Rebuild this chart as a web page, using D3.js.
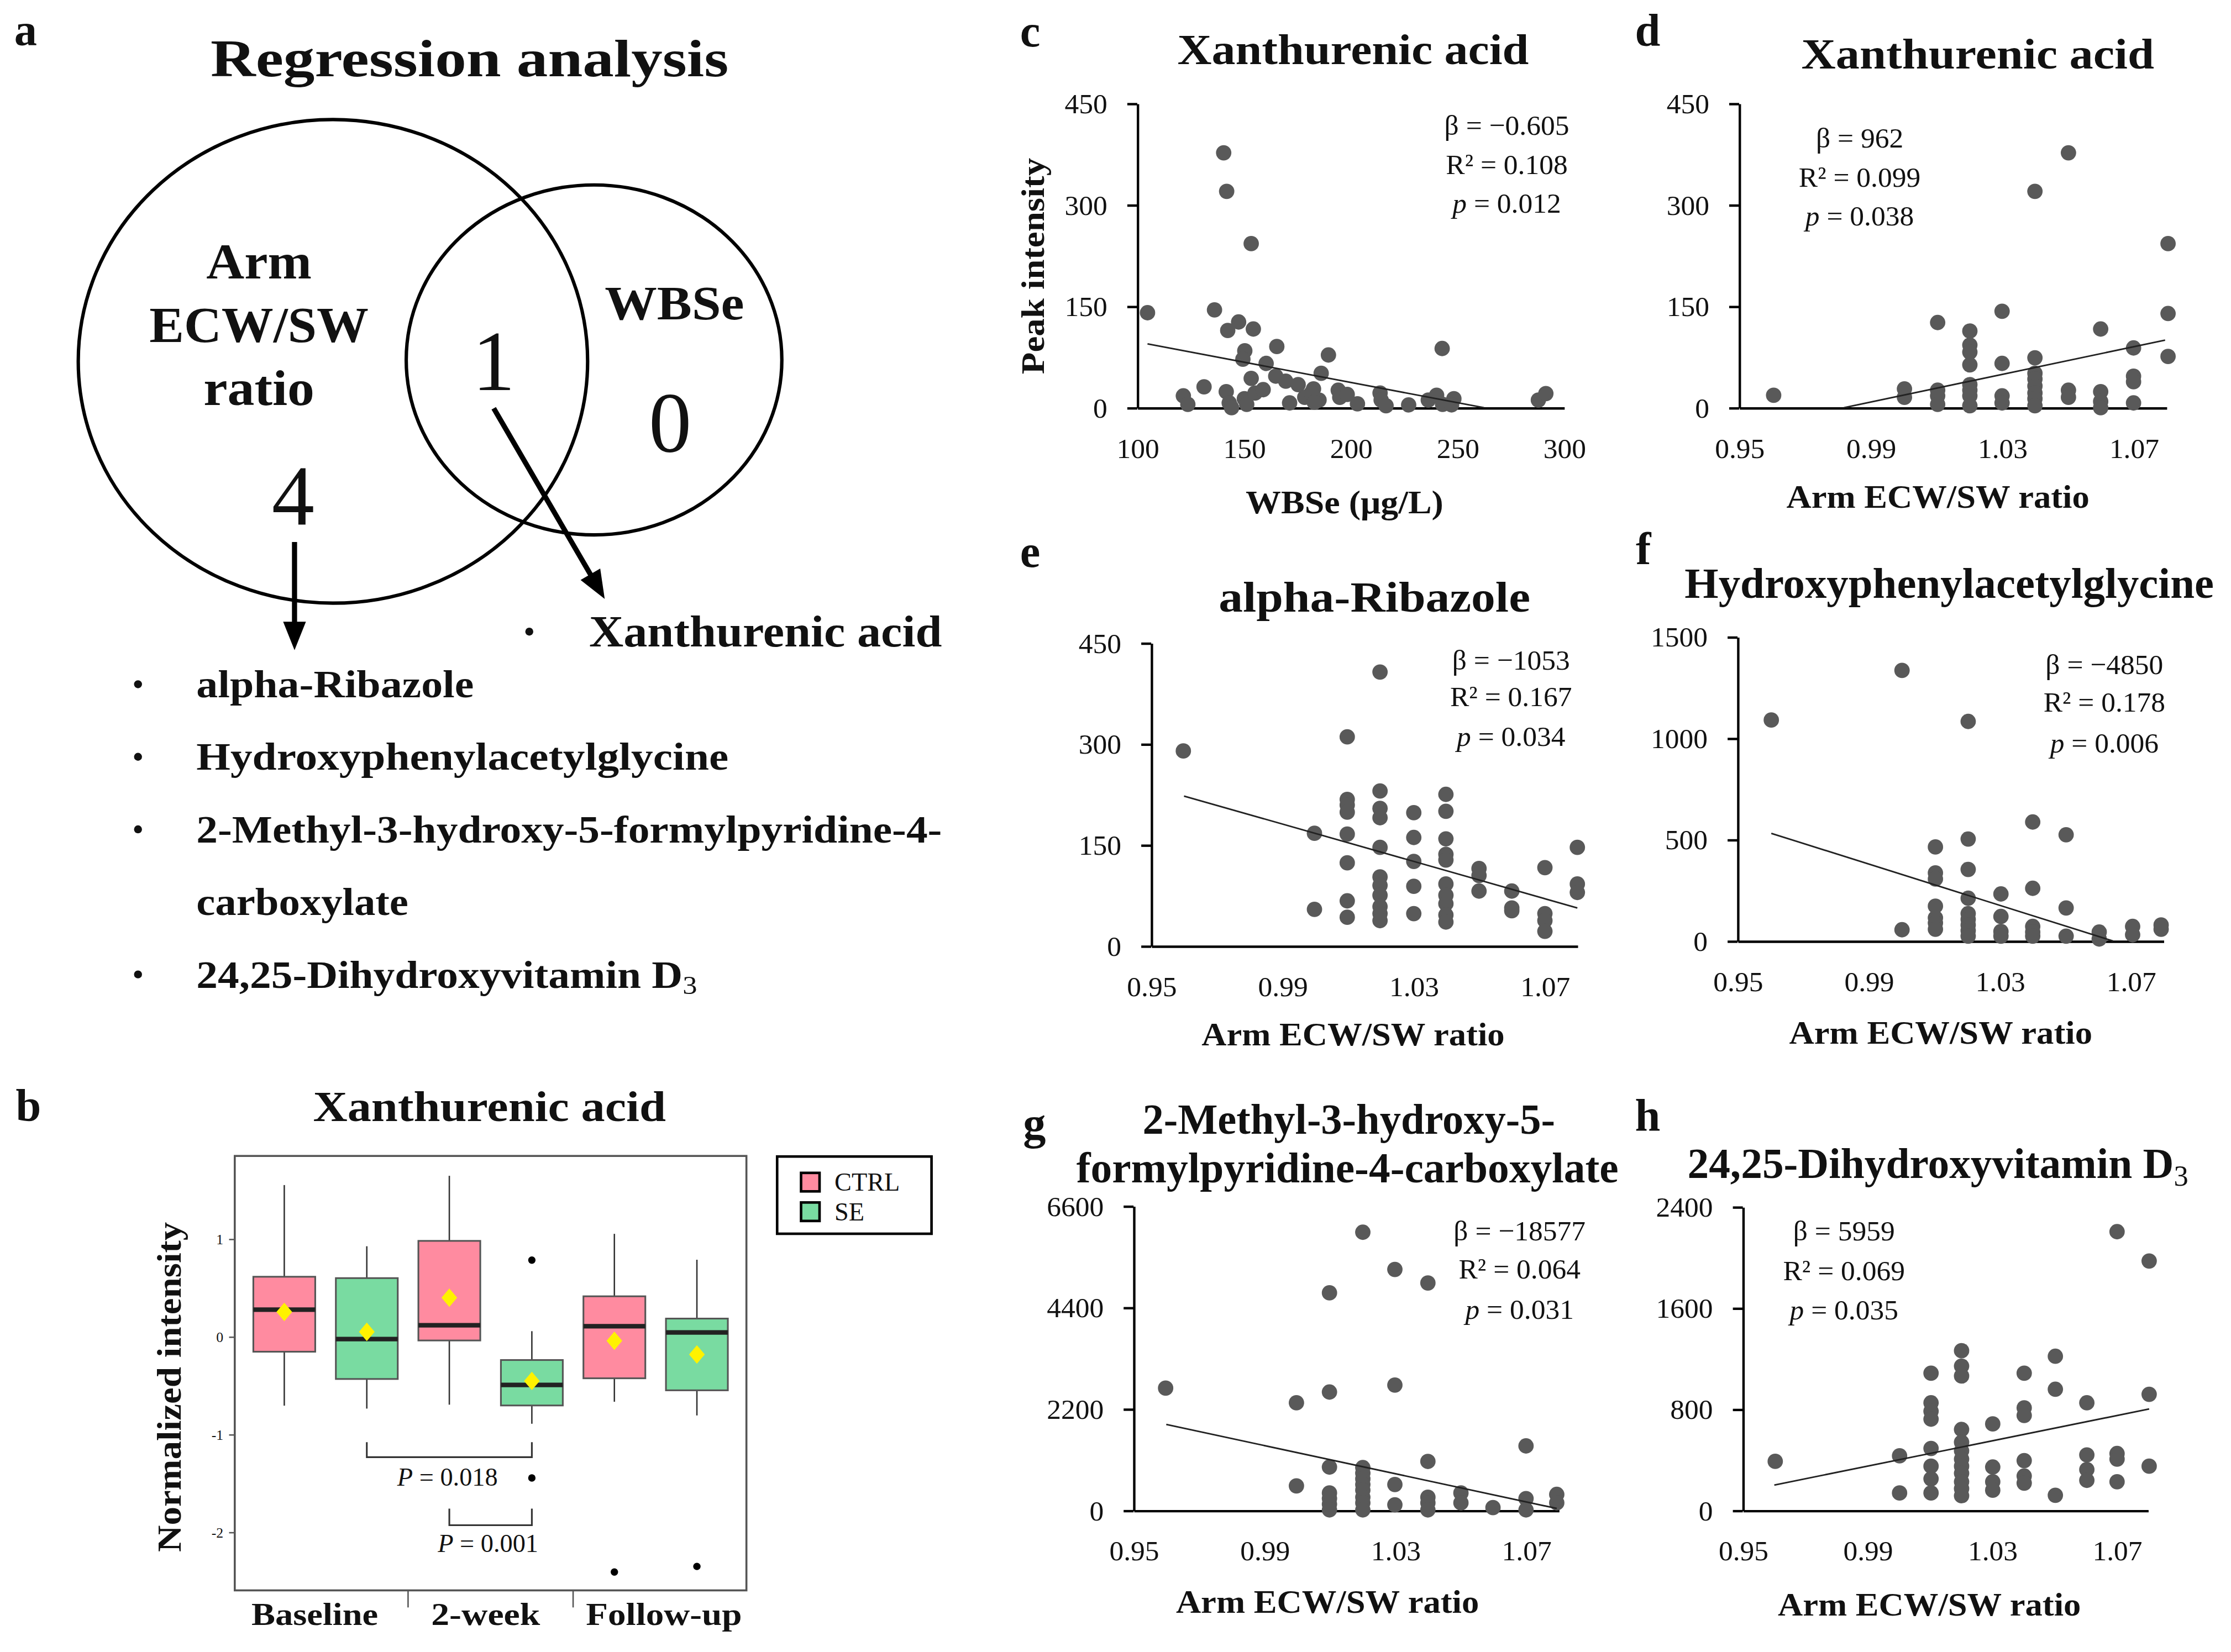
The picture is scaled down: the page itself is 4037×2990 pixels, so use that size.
<!DOCTYPE html>
<html><head><meta charset="utf-8">
<script src="https://cdn.jsdelivr.net/npm/d3@7/dist/d3.min.js"></script>
<style>
body{margin:0;background:#fff}
text{font-family:"Liberation Serif","Times New Roman",serif;fill:#111}
</style>
</head><body>
<svg id="fig"></svg>
<script>
// ---------------- DATA ----------------
const vennSetNames = ["Arm|ECW/SW|ratio", "WBSe"];
const vennCounts = [4, 1, 0]; // only Arm, both, only WBSe
const vennMainTitle = "Regression analysis";
const vennSharedItems = ["Xanthurenic acid"];
const vennArmItems = ["alpha-Ribazole", "Hydroxyphenylacetylglycine", "2-Methyl-3-hydroxy-5-formylpyridine-4-|carboxylate", "24,25-Dihydroxyvitamin D_3"];

const bTitle = "Xanthurenic acid";
const bCategories = ["Baseline", "2-week", "Follow-up"];
const bGroups = ["CTRL", "SE"];
const bWhiskerLow  = [-0.70, -0.73, -0.69, -0.885, -0.66, -0.80];
const bQ1          = [-0.148, -0.427, -0.033, -0.698, -0.42, -0.543];
const bMedian      = [0.283, -0.019, 0.123, -0.488, 0.113, 0.049];
const bQ3          = [0.619, 0.605, 0.986, -0.233, 0.419, 0.191];
const bWhiskerHigh = [1.557, 0.931, 1.652, 0.062, 1.058, 0.793];
const bMean        = [0.259, 0.055, 0.405, -0.447, -0.036, -0.176];
const bOutliers    = [[], [], [], [0.789, -1.44], [-2.402], [-2.345]];
const bYTicks = [1, 0, -1, -2];
const bPValues = ["0.018", "0.001"];
const bPairs = [[2, 4], [3, 4]];

const scatterTitles = ["Xanthurenic acid", "Xanthurenic acid", "alpha-Ribazole", "Hydroxyphenylacetylglycine", "2-Methyl-3-hydroxy-5-|formylpyridine-4-carboxylate", "24,25-Dihydroxyvitamin D_3"];
const scatterXLabels = ["WBSe (μg/L)", "Arm ECW/SW ratio", "Arm ECW/SW ratio", "Arm ECW/SW ratio", "Arm ECW/SW ratio", "Arm ECW/SW ratio"];
const statsBeta = ["−0.605", "962", "−1053", "−4850", "−18577", "5959"];
const statsR2 = ["0.108", "0.099", "0.167", "0.178", "0.064", "0.069"];
const statsP = ["0.012", "0.038", "0.034", "0.006", "0.031", "0.035"];
const xTicksWBSe = [100, 150, 200, 250, 300];
const xTicksRatio = [0.95, 0.99, 1.03, 1.07];
const yTicksC = [0, 150, 300, 450];
const yTicksD = [0, 150, 300, 450];
const yTicksE = [0, 150, 300, 450];
const yTicksF = [0, 500, 1000, 1500];
const yTicksG = [0, 2200, 4400, 6600];
const yTicksH = [0, 800, 1600, 2400];

const cPoints = [[104.8,140.5],[140.5,377],[141.9,320],[153.4,242.7],[136.2,144.7],[147.5,126.8],[142.4,114.3],[154.4,116.4],[165.4,90.5],[150.4,84.2],[149.5,71.7],[160.4,65.5],[164.9,46.7],[153.4,43.4],[169.6,39.2],[175.4,34.2],[186.2,50.9],[189.6,78],[242.9,87.6],[131.3,30.9],[121.6,17.5],[123.7,5],[141.7,23.8],[143.1,7.1],[144.2,0],[150.2,13.3],[151.3,5],[155.2,21.7],[159,26.7],[171.4,7.1],[178.5,15.4],[182.6,27.9],[185.2,11.3],[194.2,25.9],[194.9,15.4],[198.4,19.6],[203.2,5.8],[213.8,21.7],[214.3,11.3],[216.6,2.9],[227.2,4.2],[236.4,11.3],[240.3,18.4],[243.1,5],[248.4,13.3],[247.3,4.2],[288,11.3],[291.5,20.9],[181.6,21.7],[183,8]];
const cTrend = [[104.8,94.5],[262.5,0]];

const dPoints = [[0.9605,18.4],[1.0003,27.9],[1.0003,15.4],[1.0104,126],[1.0104,25.9],[1.0104,17.5],[1.0104,5],[1.0202,113.4],[1.0202,92.6],[1.0202,82.2],[1.0202,63.4],[1.0202,34.2],[1.0202,25.9],[1.0202,17.5],[1.0202,2.9],[1.03,142.6],[1.03,65.5],[1.03,17.5],[1.03,7.1],[1.04,320],[1.04,73.8],[1.04,50.9],[1.04,42.5],[1.04,32.1],[1.04,21.7],[1.04,13.3],[1.04,2.9],[1.0502,377],[1.0502,25.9],[1.0502,15.4],[1.06,116.4],[1.06,23.8],[1.06,9.2],[1.06,0],[1.07,88.4],[1.07,46.7],[1.07,38.4],[1.07,7.1],[1.0805,242.7],[1.0805,139.3],[1.0805,75.9]];
const dTrend = [[0.9819,0],[1.0796,100]];

const ePoints = [[0.9598,289.7],[0.9998,167.4],[0.9998,54.4],[1.0098,310.6],[1.0098,217.7],[1.0098,209.3],[1.0098,198.8],[1.0098,166.2],[1.0098,123.5],[1.0098,67],[1.0098,42.7],[1.0198,406.9],[1.0198,230.2],[1.0198,204.3],[1.0198,190.5],[1.0198,146.5],[1.0198,102.6],[1.0198,90],[1.0198,75.3],[1.0198,58.6],[1.0198,48.1],[1.0198,37.7],[1.0301,198],[1.0301,161.2],[1.0301,125.6],[1.0301,88.7],[1.0301,48.1],[1.0399,225.2],[1.0399,200.1],[1.0399,159.1],[1.0399,136],[1.0399,127.7],[1.0399,92.1],[1.0399,75.3],[1.0399,62.8],[1.0399,46],[1.0399,35.6],[1.05,115.1],[1.05,104.7],[1.05,81.6],[1.06,81.6],[1.06,56.5],[1.06,52.3],[1.0701,116.4],[1.0701,48.1],[1.0701,37.7],[1.0701,21.8],[1.08,146.5],[1.08,92.1],[1.08,79.5]];
const eTrend = [[0.96,222.7],[1.08,56.5]];

const fPoints = [[0.9603,1090],[1.0002,1334.6],[1.0002,55.6],[1.0204,1083],[1.0204,503],[1.0204,353],[1.0204,211],[1.0204,135],[1.0204,107],[1.0204,79],[1.0204,51],[1.0204,24],[1.0104,464],[1.0104,336],[1.0104,306],[1.0104,172],[1.0104,114],[1.0104,89],[1.0104,58],[1.0304,232],[1.0304,121],[1.0304,47],[1.0304,24],[1.0401,587],[1.0401,260],[1.0401,72],[1.0401,44],[1.0401,24],[1.0503,524],[1.0503,163],[1.0503,24],[1.0604,44],[1.0604,10],[1.0706,72],[1.0706,31],[1.0793,79],[1.0793,58]];
const fTrend = [[0.9603,531],[1.0646,0]];

const gPoints = [[0.9598,2652],[0.9998,2334],[0.9998,532],[1.0099,4718],[1.0099,2567],[1.0099,941],[1.0099,379],[1.0099,257],[1.0099,134],[1.0099,12],[1.0201,6032],[1.0201,929],[1.0201,807],[1.0201,684],[1.0201,562],[1.0201,440],[1.0201,287],[1.0201,165],[1.0201,12],[1.0299,5225],[1.0299,2719],[1.0299,562],[1.0299,122],[1.04,4932],[1.04,1063],[1.04,287],[1.04,165],[1.04,12],[1.0501,379],[1.0501,165],[1.0599,61],[1.07,1399],[1.07,257],[1.07,12],[1.0794,348],[1.0794,165]];
const gTrend = [[0.96,1864],[1.0794,43]];

const hPoints = [[0.9604,388],[1.0003,432],[1.0003,138],[1.0104,1085],[1.0104,851],[1.0104,784],[1.0104,722],[1.0104,490],[1.0104,350],[1.0104,250],[1.0104,138],[1.0202,1263],[1.0202,1141],[1.0202,1063],[1.0202,640],[1.0202,539],[1.0202,472],[1.0202,406],[1.0202,350],[1.0202,294],[1.0202,227],[1.0202,172],[1.0202,116],[1.0302,684],[1.0302,343],[1.0302,227],[1.0302,160],[1.0403,1085],[1.0403,811],[1.0403,751],[1.0403,394],[1.0403,272],[1.0403,216],[1.0503,1219],[1.0503,958],[1.0503,120],[1.0604,851],[1.0604,439],[1.0604,323],[1.0604,238],[1.0701,2204],[1.0701,450],[1.0701,406],[1.0701,227],[1.0804,1972],[1.0804,918],[1.0804,350]];
const hTrend = [[0.9601,200.6],[1.0804,802]];

// ---------------- LAYOUT ----------------
const W = 1568, H = 1161.3;
const svg = d3.select('#fig').attr('width', 4037).attr('height', 2990).attr('viewBox', `0 0 ${W} ${H}`);
svg.append('rect').attr('width', W).attr('height', H).attr('fill', '#fff');

function txt(g, x, y, s, o = {}) {
  const t = g.append('text').attr('x', x).attr('y', y)
    .attr('dominant-baseline', 'central')
    .attr('text-anchor', o.anchor || 'middle')
    .style('font-size', (o.size || 18) + 'px')
    .style('font-weight', o.bold ? 'bold' : 'normal');
  if (o.italic) t.style('font-style', 'italic');
  if (o.rotate) t.attr('transform', `rotate(${o.rotate},${x},${y})`);
  if (s.includes('_')) {
    const [a, b] = s.split('_');
    t.append('tspan').text(a);
    t.append('tspan').attr('dy', (o.size || 18) * 0.28).style('font-size', ((o.size || 18) * 0.68) + 'px').style('font-weight', 'normal').text(b);
  } else t.text(s);
  if (o.len) t.attr('textLength', o.len).attr('lengthAdjust', 'spacingAndGlyphs');
  return t;
}

// panel letters
const panelLetters = [['a', 18, 21], ['b', 20, 777], ['c', 724, 22], ['d', 1158, 21], ['e', 724, 388], ['f', 1155, 386], ['g', 727, 790], ['h', 1158, 784]];
panelLetters.forEach(p => txt(svg, p[1], p[2], p[0], { size: 32, bold: true }));

// ---------------- PANEL A : Venn ----------------
(function () {
  const g = svg.append('g');
  txt(g, 330, 41, vennMainTitle, { size: 37, bold: true, len: 364 });
  const ell = [{ cx: 234, cy: 254, rx: 179, ry: 170 }, { cx: 417.5, cy: 253, rx: 132, ry: 123 }];
  g.selectAll('ellipse.v').data(ell).enter().append('ellipse')
    .attr('cx', d => d.cx).attr('cy', d => d.cy).attr('rx', d => d.rx).attr('ry', d => d.ry)
    .attr('fill', 'none').attr('stroke', '#000').attr('stroke-width', 2.4);
  const armLines = vennSetNames[0].split('|');
  const armLens = [74, 154, 78];
  armLines.forEach((s, i) => txt(g, 182, 184 + i * 44.5, s, { size: 35, bold: true, len: armLens[i] }));
  txt(g, 474, 213, vennSetNames[1], { size: 34, bold: true, len: 98 });
  const numPos = [[206, 348], [347, 254], [471, 297]];
  vennCounts.forEach((c, i) => txt(g, numPos[i][0], numPos[i][1], String(c), { size: 60 }));
  // arrows
  function arrow(x1, y1, x2, y2) {
    const dx = x2 - x1, dy = y2 - y1, L = Math.hypot(dx, dy), ux = dx / L, uy = dy / L;
    const hl = 20, hw = 8;
    const bx = x2 - ux * hl, by = y2 - uy * hl;
    g.append('line').attr('x1', x1).attr('y1', y1).attr('x2', bx + ux * 2).attr('y2', by + uy * 2)
      .attr('stroke', '#000').attr('stroke-width', 3.6);
    g.append('path').attr('d', `M${x2},${y2}L${bx - uy * hw},${by + ux * hw}L${bx + uy * hw},${by - ux * hw}Z`).attr('fill', '#000');
  }
  arrow(207, 381, 207, 457);
  arrow(347, 287, 425, 421);
  // bullet dots
  function bullet(cx, cy) { g.append('circle').attr('cx', cx).attr('cy', cy).attr('r', 2.8).attr('fill', '#111'); }
  // shared list
  vennSharedItems.forEach((s, i) => {
    bullet(372, 444);
    txt(g, 414, 444, s, { size: 31, bold: true, anchor: 'start', len: 248 });
  });
  // arm list
  let row = 0;
  const lens = { 'alpha-Ribazole': 195, 'Hydroxyphenylacetylglycine': 374, '2-Methyl-3-hydroxy-5-formylpyridine-4-': 524, 'carboxylate': 149, '24,25-Dihydroxyvitamin D_3': 352 };
  vennArmItems.forEach(item => {
    item.split('|').forEach((part, j) => {
      const y = 481 + row * 51;
      if (j === 0) bullet(97, y);
      txt(g, 138, y, part, { size: 27, bold: true, anchor: 'start', len: lens[part] });
      row++;
    });
  });
})();

// ---------------- PANEL B : boxplot ----------------
(function () {
  const g = svg.append('g');
  const x = d3.scaleLinear().domain([0.4, 6.6]).range([165, 524.6]);
  const y = d3.scaleLinear().domain([-2.59, 1.855]).range([1118, 812.6]);
  const colors = { CTRL: '#FF8BA0', SE: '#79DBA1' };
  const bw = 0.75;
  txt(g, 344, 778, bTitle, { size: 30, bold: true, len: 248 });
  // frame
  g.append('rect').attr('x', x(0.4)).attr('y', y(1.855)).attr('width', x(6.6) - x(0.4)).attr('height', y(-2.59) - y(1.855))
    .attr('fill', 'none').attr('stroke', '#555').attr('stroke-width', 1.4);
  // y ticks
  bYTicks.forEach(v => {
    g.append('line').attr('x1', x(0.4) - 4).attr('x2', x(0.4)).attr('y1', y(v)).attr('y2', y(v)).attr('stroke', '#555').attr('stroke-width', 1);
    txt(g, x(0.4) - 8, y(v), String(v), { size: 10, anchor: 'end' });
  });
  txt(g, 119, 975, 'Normalized intensity', { size: 24, bold: true, rotate: -90, len: 232 });
  // x axis group separators & labels
  [2.5, 4.5].forEach(v => g.append('line').attr('x1', x(v)).attr('x2', x(v)).attr('y1', y(-2.59)).attr('y2', y(-2.59) + 12).attr('stroke', '#555').attr('stroke-width', 1));
  const labPos = [1.37, 3.44, 5.6], labLen = [89, 76.5, 109.6];
  bCategories.forEach((c, i) => txt(g, x(labPos[i]), 1135, c, { size: 22, bold: true, len: labLen[i] }));
  // boxes
  const boxes = d3.range(6).map(i => ({ i, pos: i + 1, grp: bGroups[i % 2] }));
  boxes.forEach(b => {
    const i = b.i, cx = x(b.pos);
    g.append('line').attr('x1', cx).attr('x2', cx).attr('y1', y(bWhiskerHigh[i])).attr('y2', y(bQ3[i])).attr('stroke', '#333').attr('stroke-width', 1);
    g.append('line').attr('x1', cx).attr('x2', cx).attr('y1', y(bQ1[i])).attr('y2', y(bWhiskerLow[i])).attr('stroke', '#333').attr('stroke-width', 1);
    g.append('rect').attr('x', x(b.pos - bw / 2)).attr('width', x(b.pos + bw / 2) - x(b.pos - bw / 2))
      .attr('y', y(bQ3[i])).attr('height', y(bQ1[i]) - y(bQ3[i]))
      .attr('fill', colors[b.grp]).attr('stroke', '#555').attr('stroke-width', 1.2);
    g.append('line').attr('x1', x(b.pos - bw / 2)).attr('x2', x(b.pos + bw / 2)).attr('y1', y(bMedian[i])).attr('y2', y(bMedian[i]))
      .attr('stroke', '#222').attr('stroke-width', 3.2);
    bOutliers[i].forEach(o => g.append('circle').attr('cx', cx).attr('cy', y(o)).attr('r', 2.6).attr('fill', '#000'));
    const my = y(bMean[i]), d = 6.5;
    g.append('path').attr('d', `M${cx},${my - d}L${cx + d * 0.85},${my}L${cx},${my + d}L${cx - d * 0.85},${my}Z`).attr('fill', '#FFF200');
  });
  // comparisons
  const brk = [{ yb: -1.227, yt: -1.074, ty: -1.431, tx: 314.5 }, { yb: -1.923, yt: -1.753, ty: -2.109, tx: 343 }];
  bPairs.forEach((p, k) => {
    const b = brk[k];
    g.append('path').attr('d', `M${x(p[0])},${y(b.yt)}V${y(b.yb)}H${x(p[1])}V${y(b.yt)}`)
      .attr('fill', 'none').attr('stroke', '#333').attr('stroke-width', 1.2);
    const t = g.append('text').attr('x', b.tx).attr('y', y(b.ty)).attr('text-anchor', 'middle').attr('dominant-baseline', 'central').style('font-size', '18px');
    t.append('tspan').style('font-style', 'italic').text('P');
    t.append('tspan').text(' = ' + bPValues[k]);
  });
  // legend
  g.append('rect').attr('x', 546.2).attr('y', 813).attr('width', 108.5).attr('height', 54.3).attr('fill', '#fff').attr('stroke', '#000').attr('stroke-width', 1.8);
  bGroups.forEach((s, k) => {
    const yy = 831 + k * 20.8;
    g.append('rect').attr('x', 563).attr('y', yy - 6.5).attr('width', 13).attr('height', 13).attr('fill', colors[s]).attr('stroke', '#000').attr('stroke-width', 1.8);
    txt(g, 586.5, yy, s, { size: 18, anchor: 'start' });
  });
})();

// ---------------- SCATTER PANELS ----------------
const scatterLayouts = [
  { x0: 799.3, x1: 1099.2, yt: 72.7, yb: 286.6, xd: [100, 300], xt: xTicksWBSe, fmt: d3.format('d'), yd: [0, 450], ytk: yTicksC, title: [[951, 35, 247]], xl: [945, 353, 139], st: [1059, [88, 115.7, 142.5]], ylab: true },
  { x0: 1222.3, x1: 1522.6, yt: 72.7, yb: 286.6, xd: [0.95, 1.08], xt: xTicksRatio, fmt: d3.format('.2f'), yd: [0, 450], ytk: yTicksD, title: [[1390, 38, 248]], xl: [1362, 349, 213], st: [1307, [96.9, 124.6, 151.4]] },
  { x0: 809.1, x1: 1108.6, yt: 452, yb: 665, xd: [0.95, 1.08], xt: xTicksRatio, fmt: d3.format('.2f'), yd: [0, 450], ytk: yTicksE, title: [[966, 420, 219]], xl: [951, 727, 213], st: [1062, [463.9, 489.5, 517.4]] },
  { x0: 1221.2, x1: 1520.5, yt: 447.7, yb: 661.5, xd: [0.95, 1.08], xt: xTicksRatio, fmt: d3.format('.2f'), yd: [0, 1500], ytk: yTicksF, title: [[1370, 410, 372]], xl: [1364, 726, 213], st: [1479, [466.9, 493.6, 522]] },
  { x0: 796.7, x1: 1095.5, yt: 847.8, yb: 1061.8, xd: [0.95, 1.08], xt: xTicksRatio, fmt: d3.format('.2f'), yd: [0, 6600], ytk: yTicksG, title: [[948, 787, 290], [947, 821, 381]], xl: [933, 1126, 213], st: [1068, [865, 892, 920]] },
  { x0: 1224.9, x1: 1509.6, yt: 848.4, yb: 1061.8, xd: [0.95, 1.08], xt: xTicksRatio, fmt: d3.format('.2f'), yd: [0, 2400], ytk: yTicksH, title: [[1362, 818, 352]], xl: [1356, 1128, 213], st: [1296, [865.2, 893, 920.7]] }
];
const scatterData = [cPoints, dPoints, ePoints, fPoints, gPoints, hPoints];
const scatterTrends = [cTrend, dTrend, eTrend, fTrend, gTrend, hTrend];

scatterLayouts.forEach((L, k) => {
  const g = svg.append('g');
  const x = d3.scaleLinear().domain(L.xd).range([L.x0, L.x1]);
  const y = d3.scaleLinear().domain(L.yd).range([L.yb, L.yt]);
  // title
  scatterTitles[k].split('|').forEach((s, j) => txt(g, L.title[j][0], L.title[j][1], s, { size: 30, bold: true, len: L.title[j][2] }));
  // y axis
  const ya = g.append('g').attr('transform', `translate(${L.x0},0)`)
    .call(d3.axisLeft(y).tickValues(L.ytk).tickSize(7).tickSizeOuter(0).tickPadding(14).tickFormat(d3.format('d')));
  // x axis
  const xa = g.append('g').attr('transform', `translate(0,${y(0)})`)
    .call(d3.axisBottom(x).tickValues(L.xt).tickSize(0).tickSizeOuter(0).tickPadding(21).tickFormat(L.fmt));
  [ya, xa].forEach(a => {
    a.select('.domain').attr('stroke', '#000').attr('stroke-width', 1.7);
    a.selectAll('.tick line').attr('stroke', '#000').attr('stroke-width', 1.7);
    a.selectAll('.tick text').style('font-family', '"Liberation Serif","Times New Roman",serif').style('font-size', '20px').attr('fill', '#222');
  });
  // points
  g.selectAll('circle.pt').data(scatterData[k]).enter().append('circle')
    .attr('cx', d => x(d[0])).attr('cy', d => y(d[1])).attr('r', 5.4).attr('fill', '#595959');
  // trend
  const t = scatterTrends[k];
  g.append('line').attr('x1', x(t[0][0])).attr('y1', y(t[0][1])).attr('x2', x(t[1][0])).attr('y2', y(t[1][1]))
    .attr('stroke', '#222').attr('stroke-width', 1.1);
  // stats
  const [sx, sy] = L.st;
  txt(g, sx, sy[0], 'β = ' + statsBeta[k], { size: 20 }).attr('fill', '#222');
  txt(g, sx, sy[1], 'R² = ' + statsR2[k], { size: 20 }).attr('fill', '#222');
  const tp = g.append('text').attr('x', sx).attr('y', sy[2]).attr('text-anchor', 'middle').attr('dominant-baseline', 'central').style('font-size', '20px').attr('fill', '#222');
  tp.append('tspan').style('font-style', 'italic').text('p');
  tp.append('tspan').text(' = ' + statsP[k]);
  // axis labels
  txt(g, L.xl[0], L.xl[1], scatterXLabels[k], { size: 23, bold: true, len: L.xl[2] });
  if (L.ylab) txt(g, 726, 187, 'Peak intensity', { size: 23, bold: true, rotate: -90, len: 152 });
});
</script>
</body></html>
